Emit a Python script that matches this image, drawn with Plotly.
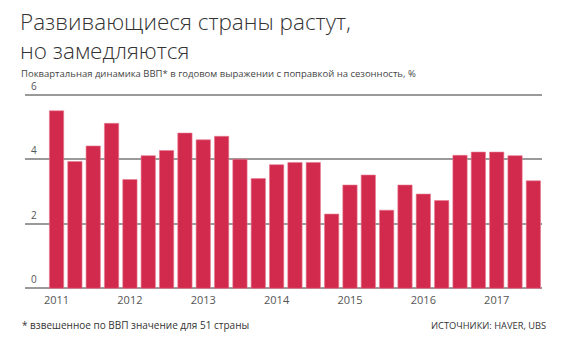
import plotly.graph_objects as go

quarters = list(range(27))
gdp_growth = [5.5, 3.93, 4.41, 5.11, 3.37, 4.11, 4.27, 4.81, 4.6, 4.71, 4.0, 3.4, 3.83, 3.9,
              3.9, 2.3, 3.2, 3.51, 2.42, 3.2, 2.92, 2.72, 4.12, 4.22, 4.22, 4.11, 3.33]
year_tick_pos = [0, 4, 8, 12, 16, 20, 24]
year_labels = ["2011", "2012", "2013", "2014", "2015", "2016", "2017"]
y_ticks = [0, 2, 4, 6]

FONT = "Open Sans"
fig = go.Figure()
fig.add_trace(go.Bar(
    x=quarters, y=gdp_growth,
    marker=dict(color="#D22A4D", line=dict(color="#E87A90", width=0.6)),
    width=0.78,
))
fig.update_layout(
    width=570, height=339,
    margin=dict(l=25, r=28, t=93, b=50),
    paper_bgcolor="white", plot_bgcolor="white",
    showlegend=False,
    font=dict(family=FONT, color="#444"),
    xaxis=dict(range=[-1.72, 26.47], tickmode="array", tickvals=year_tick_pos,
               ticktext=year_labels, showgrid=False, zeroline=False,
               showline=False, ticks="",
               tickfont=dict(size=11, color="#555", family=FONT), ticklabelstandoff=3),
    yaxis=dict(range=[-0.02, 6.05], tickvals=y_ticks, showgrid=True, gridcolor="#9a9a9a",
               gridwidth=1.5, zeroline=True, zerolinecolor="#9a9a9a", zerolinewidth=1.5,
               showline=False, ticks="", showticklabels=False),
)
for v in y_ticks:
    fig.add_annotation(text=str(v), xref="paper", yref="y", x=0, xshift=5, y=v, yshift=1,
                       xanchor="left", yanchor="bottom", showarrow=False, borderpad=0,
                       font=dict(family=FONT, size=10, color="#555"))
title_lines = ["Развивающиеся страны растут,", "но замедляются"]
for text, ypix in zip(title_lines, [21, 50]):
    fig.add_annotation(text=text, xref="paper", yref="paper", borderpad=0,
                       x=0, xshift=-25 + 19, y=1, yshift=93 - ypix, xanchor="left", yanchor="middle",
                       align="left", showarrow=False,
                       font=dict(family=FONT, size=22.5, color="#333", weight=300))
fig.add_annotation(text="Поквартальная динамика ВВП* в годовом выражении с поправкой на сезонность, %",
                   xref="paper", yref="paper", x=0, xshift=-25 + 20, y=1, yshift=93 - 73,
                   xanchor="left", yanchor="middle", align="left", showarrow=False, borderpad=0,
                   font=dict(family=FONT, size=9.5, color="#444"))
fig.add_annotation(text="* взвешенное по ВВП значение для 51 страны", xref="paper", yref="paper",
                   x=0, xshift=-25 + 20, y=0, yshift=-50 + 14, xanchor="left", yanchor="middle",
                   showarrow=False, font=dict(family=FONT, size=10, color="#333"))
fig.add_annotation(text="ИСТОЧНИКИ: HAVER, UBS", xref="paper", yref="paper",
                   x=1, xshift=28 - 22, y=0, yshift=-50 + 14, xanchor="right", yanchor="middle",
                   showarrow=False, font=dict(family=FONT, size=9.3, color="#333"))
fig.write_html("out.html")
